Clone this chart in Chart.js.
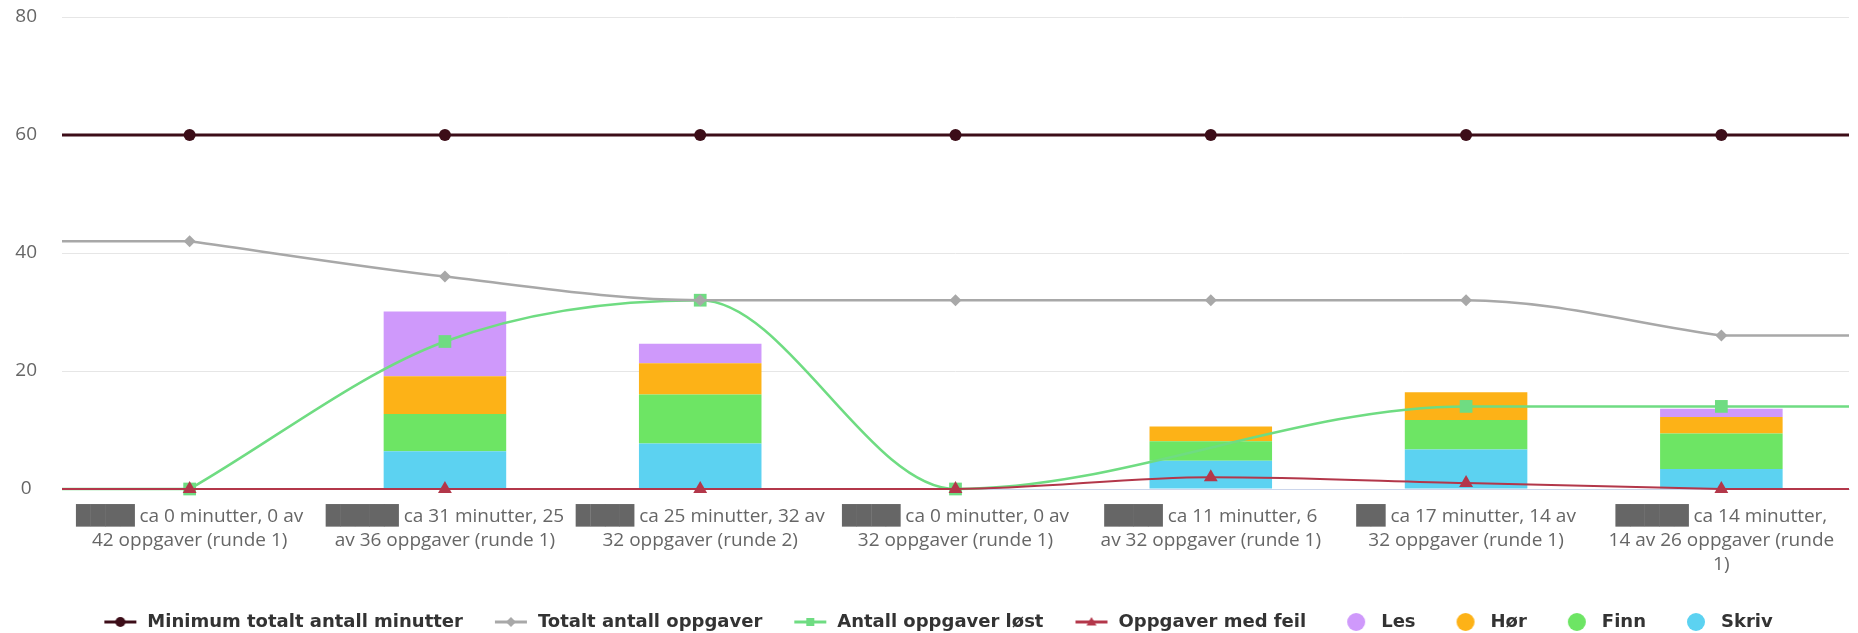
<!DOCTYPE html>
<html>
<head>
<meta charset="utf-8">
<script src="https://cdn.jsdelivr.net/npm/chart.js@4/dist/chart.umd.min.js"></script>
<style>
  html, body { margin: 0; padding: 0; background: #fff; }
  #wrap { width: 1858px; height: 633px; position: relative; }
</style>
</head>
<body>
<div id="wrap"><canvas id="cchart"></canvas></div>
<script>
// names are blacked out in the original, kept as block characters
const tickLabels = [
  ['████ ca 0 minutter, 0 av', '42 oppgaver (runde 1)'],
  ['█████ ca 31 minutter, 25', 'av 36 oppgaver (runde 1)'],
  ['████ ca 25 minutter, 32 av', '32 oppgaver (runde 2)'],
  ['████ ca 0 minutter, 0 av', '32 oppgaver (runde 1)'],
  ['████ ca 11 minutter, 6', 'av 32 oppgaver (runde 1)'],
  ['██ ca 17 minutter, 14 av', '32 oppgaver (runde 1)'],
  ['█████ ca 14 minutter,', '14 av 26 oppgaver (runde', '1)'],
];
const yTicks = [0, 20, 40, 60, 80];

const minMinutter = [60, 60, 60, 60, 60, 60, 60];
const totaltOppgaver = [42, 36, 32, 32, 32, 32, 26];
const oppgaverLost = [0, 25, 32, 0, null, 14, 14];
const oppgaverFeil = [0, 0, 0, 0, 2, 1, 0];

const les = [0, 11.0, 3.3, 0, 0, 0, 1.4];
const hor = [0, 6.4, 5.3, 0, 2.5, 4.7, 2.8];
const finn = [0, 6.3, 8.3, 0, 3.3, 5.0, 6.0];
const skriv = [0, 6.4, 7.7, 0, 4.8, 6.7, 3.4];

const colors = {
  min: '#3c0d18',
  total: '#a8a8a8',
  lost: '#6fdc82',
  feil: '#b3374a',
  les: '#cf99fb',
  hor: '#fdb217',
  finn: '#6de564',
  skriv: '#5cd2f1',
};

const legendNames = ['Minimum totalt antall minutter', 'Totalt antall oppgaver', 'Antall oppgaver løst',
  'Oppgaver med feil', 'Les', 'Hør', 'Finn', 'Skriv'];

let shape = (ctx, style, x, y, r) => {
  ctx.beginPath();
  if (style === 'circle') {
    ctx.arc(x, y, r, 0, Math.PI * 2);
  } else if (style === 'rectRot') {
    ctx.moveTo(x, y - r); ctx.lineTo(x + r, y); ctx.lineTo(x, y + r); ctx.lineTo(x - r, y);
  } else if (style === 'rect') {
    ctx.rect(x - r, y - r, r * 2, r * 2);
  } else if (style === 'triangle') {
    ctx.moveTo(x, y - r); ctx.lineTo(x + r, y + r * 0.7); ctx.lineTo(x - r, y + r * 0.7);
  }
  ctx.closePath();
  ctx.fill();
};

let lineIcon = (color, style, r) => {
  const c = document.createElement('canvas');
  c.width = 56; c.height = 14;
  const ctx = c.getContext('2d');
  ctx.strokeStyle = color; ctx.fillStyle = color; ctx.lineWidth = 3;
  ctx.beginPath(); ctx.moveTo(22, 7); ctx.lineTo(54, 7); ctx.stroke();
  shape(ctx, style, 38, 7, r);
  return c;
};

let dotIcon = (color) => {
  const c = document.createElement('canvas');
  c.width = 56; c.height = 20;
  const ctx = c.getContext('2d');
  ctx.fillStyle = color;
  shape(ctx, 'circle', 40, 10, 9);
  return c;
};

const icons = {
  'Minimum totalt antall minutter': lineIcon(colors.min, 'circle', 5),
  'Totalt antall oppgaver': lineIcon(colors.total, 'rectRot', 5),
  'Antall oppgaver løst': lineIcon(colors.lost, 'rect', 4),
  'Oppgaver med feil': lineIcon(colors.feil, 'triangle', 5),
  'Les': dotIcon(colors.les),
  'Hør': dotIcon(colors.hor),
  'Finn': dotIcon(colors.finn),
  'Skriv': dotIcon(colors.skriv),
};

// lines run on flat to the plot edges, as in the original
const edgeLines = {
  id: 'edgeLines',
  beforeDatasetDraw(chart, args) {
    if (args.meta.type !== 'line') return;
    const ds = chart.data.datasets[args.index];
    const pts = args.meta.data.filter((p) => !p.skip);
    if (!pts.length) return;
    const first = pts[0];
    const last = pts[pts.length - 1];
    const area = chart.chartArea;
    const ctx = chart.ctx;
    ctx.save();
    ctx.strokeStyle = ds.borderColor;
    ctx.lineWidth = ds.borderWidth;
    ctx.beginPath();
    ctx.moveTo(area.left, first.y);
    ctx.lineTo(first.x, first.y);
    ctx.moveTo(last.x, last.y);
    ctx.lineTo(area.right, last.y);
    ctx.stroke();
    ctx.restore();
  },
};

let lineSet = (label, data, color, width, style, radius, stack) => ({
  type: 'line',
  label: label,
  data: data,
  stack: stack,
  clip: false,
  borderColor: color,
  backgroundColor: color,
  borderWidth: width,
  pointStyle: style,
  pointRadius: radius,
  pointBorderWidth: 0,
  pointBackgroundColor: color,
  cubicInterpolationMode: 'monotone',
  spanGaps: true,
  fill: false,
});

let barSet = (label, data, color) => ({
  type: 'bar',
  label: label,
  data: data,
  stack: 'bars',
  backgroundColor: color,
  borderWidth: 0,
  categoryPercentage: 1,
  barPercentage: 0.48,
});

let chart = null;
let drawChart = () => {
  const ctx = document.getElementById('cchart');
  if (chart) chart.destroy();

  Chart.defaults.font.family = "'Open Sans', 'DejaVu Sans', sans-serif";
  chart = new Chart(ctx, {
    data: {
      labels: tickLabels,
      datasets: [
        lineSet('Minimum totalt antall minutter', minMinutter, colors.min, 3, 'circle', 6, 's1'),
        lineSet('Totalt antall oppgaver', totaltOppgaver, colors.total, 2.5, 'rectRot', 6, 's2'),
        lineSet('Oppgaver med feil', oppgaverFeil, colors.feil, 2, 'triangle', 8, 's4'),
        lineSet('Antall oppgaver løst', oppgaverLost, colors.lost, 2.5, 'rect', 9, 's3'),
        barSet('Skriv', skriv, colors.skriv),
        barSet('Finn', finn, colors.finn),
        barSet('Hør', hor, colors.hor),
        barSet('Les', les, colors.les),
      ],
    },
    plugins: [edgeLines],
    options: {
      animation: false,
      responsive: true,
      maintainAspectRatio: false,
      layout: { padding: { top: 17, right: 3, bottom: -8, left: 0 } },
      plugins: {
        tooltip: { enabled: false },
        legend: {
          position: 'bottom',
          labels: {
            usePointStyle: true,
            pointStyleWidth: 56,
            padding: 10,
            color: '#333333',
            font: { family: "'DejaVu Sans', sans-serif", size: 18, weight: 'bold' },
            generateLabels: (c) => {
              const items = Chart.defaults.plugins.legend.labels.generateLabels(c);
              items.forEach((it) => { it.pointStyle = icons[it.text]; });
              return items.sort((a, b) => legendNames.indexOf(a.text) - legendNames.indexOf(b.text));
            },
          },
        },
      },
      scales: {
        x: {
          grid: { display: false, drawTicks: false },
          border: { color: '#ccd6eb' },
          ticks: {
            color: '#666666',
            font: { size: 19, lineHeight: 1.26 },
            padding: 16,
            maxRotation: 0,
            autoSkip: false,
          },
          afterFit: (scale) => { scale.height = 114; },
        },
        y: {
          stacked: true,
          min: yTicks[0],
          max: yTicks[yTicks.length - 1],
          grid: { color: '#e6e6e6', drawTicks: false },
          border: { display: false },
          ticks: {
            stepSize: yTicks[1] - yTicks[0],
            color: '#666666',
            font: { size: 19 },
            padding: 25,
            crossAlign: 'center',
          },
          afterFit: (scale) => {
            scale.width = 62;
            scale.paddingTop = 0;
            scale.paddingBottom = 0;
          },
        },
      },
    },
  });
};

drawChart();
window.onresize = () => {
  drawChart();
};
</script>
</body>
</html>
